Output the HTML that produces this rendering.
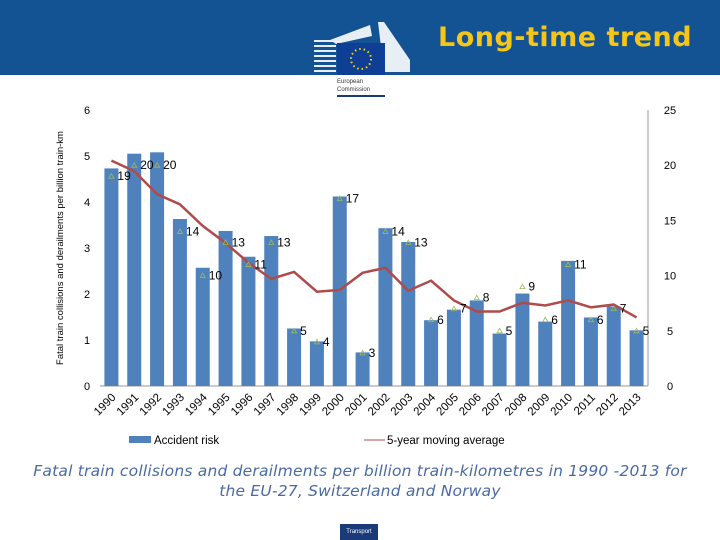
<!DOCTYPE html>
<html><head><meta charset="utf-8">
<style>
body{margin:0;width:720px;height:540px;overflow:hidden;background:#fff;font-family:"Liberation Sans",sans-serif;position:relative}
#hdr{position:absolute;left:0;top:0;width:720px;height:75px;background:#135394}
#title{position:absolute;left:438px;top:22px;font:bold 27px "DejaVu Sans","Liberation Sans",sans-serif;color:#f5c518;letter-spacing:0.5px}
#cap{position:absolute;left:0;top:461px;width:720px;text-align:center;font:italic 15.5px "DejaVu Sans",sans-serif;color:#4a6aa5;line-height:20px;letter-spacing:0.2px}
#foot{position:absolute;left:340px;top:524px;width:38px;height:16px;background:#1a3a7a;color:#fff;font-size:6px;text-align:center;line-height:16px}
svg{position:absolute;left:0;top:0}
</style></head><body>
<div id="hdr"></div>
<svg width="720" height="110">
<g fill="#fff" opacity="0.9">
<rect x="314" y="40" width="22" height="2"/><rect x="314" y="45" width="22" height="2"/><rect x="314" y="50" width="22" height="2"/><rect x="314" y="55" width="22" height="2"/><rect x="314" y="60" width="22" height="2"/><rect x="314" y="65" width="22" height="2"/><rect x="314" y="70" width="22" height="2"/>
<polygon points="330,40 370,25 372,36 336,44"/>
<polygon points="378,22 384,22 410,60 410,72 384,72"/>
</g>
<rect x="337" y="43" width="48" height="32" fill="#0e3f94"/>
<circle cx="361" cy="59" r="10" fill="none" stroke="#f5d800" stroke-width="2" stroke-dasharray="1.5 3"/>
<text x="337" y="83" font-size="6" fill="#333">European</text>
<text x="337" y="91" font-size="6" fill="#333">Commission</text>
<rect x="337" y="95" width="48" height="2" fill="#1a3a7a"/>
</svg>
<div id="title">Long-time trend</div>
<svg id="chart" width="720" height="460"></svg>
<div id="cap">Fatal train collisions and derailments per billion train-kilometres in 1990 -2013 for<br>the EU-27, Switzerland and Norway</div>
<div id="foot">Transport</div>
<script>
const years=["1990","1991","1992","1993","1994","1995","1996","1997","1998","1999","2000","2001","2002","2003","2004","2005","2006","2007","2008","2009","2010","2011","2012","2013"];
const risk=[4.73,5.05,5.08,3.63,2.57,3.37,2.81,3.26,1.25,0.97,4.12,0.73,3.43,3.13,1.43,1.66,1.86,1.14,2.01,1.40,2.72,1.49,1.73,1.21];
const movingAvg=[4.9,4.67,4.17,3.95,3.48,3.11,2.68,2.33,2.48,2.05,2.09,2.46,2.57,2.07,2.29,1.86,1.62,1.62,1.81,1.75,1.86,1.71,1.77,1.49];
const counts=[19,20,20,14,10,13,11,13,5,4,17,3,14,13,6,7,8,5,9,6,11,6,7,5];
const leftTicks=[0,1,2,3,4,5,6];
const rightTicks=[0,5,10,15,20,25];
const NS="http://www.w3.org/2000/svg";
const svg=document.getElementById('chart');
const X0=100,X1=648,Y0=386,Y1=110;
const bw=(X1-X0)/years.length;
const xc=i=>X0+bw*(i+0.5);
const yl=v=>Y0-(v/6)*(Y0-Y1);
const yr=v=>Y0-(v/25)*(Y0-Y1);
function mk(t,a){const e=document.createElementNS(NS,t);for(const k in a)e.setAttribute(k,a[k]);svg.appendChild(e);return e;}
let ax=mk('line',{x1:X0,y1:Y0,x2:X1,y2:Y0,stroke:'#999'});


let rax=mk('line',{x1:X1,y1:Y1,x2:X1,y2:Y0,stroke:'#999'});


leftTicks.forEach(v=>{const t=mk('text',{x:84,y:yl(v)+4,'font-size':11,fill:'#000'});t.textContent=v;

});
rightTicks.forEach(v=>{const t=mk('text',{x:670,y:yr(v)+4,'font-size':11,fill:'#000','text-anchor':'middle'});t.textContent=v;

});
const yt=mk('text',{x:0,y:0,'font-size':9.5,fill:'#000','text-anchor':'middle',transform:'translate(63,248) rotate(-90)'});
yt.textContent='Fatal train collisions and derailments per billion train-km';


risk.forEach((v,i)=>{const r=mk('rect',{x:xc(i)-7,y:yl(v),width:14,height:Y0-yl(v),fill:'#4f81bd'});

});
const pl=mk('polyline',{points:movingAvg.map((v,i)=>xc(i)+','+yl(v)).join(' '),fill:'none',stroke:'#b04b4b','stroke-width':2.5});


counts.forEach((v,i)=>{const x=xc(i),y=yr(v);
const tr=mk('polygon',{points:`${x-2.5},${y+2} ${x+2.5},${y+2} ${x},${y-2.5}`,fill:'none',stroke:'#9bbb59','stroke-width':0.8});


const t=mk('text',{x:x+6,y:y+4,'font-size':12,fill:'#000'});t.textContent=v;

});
years.forEach((yv,i)=>{const t=mk('text',{x:0,y:0,'font-size':11.5,fill:'#000','text-anchor':'end',transform:`translate(${xc(i)+5},${Y0+12}) rotate(-45)`});t.textContent=yv;

});
const lb=mk('rect',{x:129,y:436,width:22,height:7,fill:'#4f81bd'});


const lt=mk('text',{x:154,y:444,'font-size':11.5,fill:'#000'});lt.textContent='Accident risk';


const ll=mk('line',{x1:364,y1:440,x2:385,y2:440,stroke:'#b04b4b','stroke-width':1});


const lt2=mk('text',{x:387,y:444,'font-size':11.5,fill:'#000'});lt2.textContent='5-year moving average';


</script>
</body></html>
